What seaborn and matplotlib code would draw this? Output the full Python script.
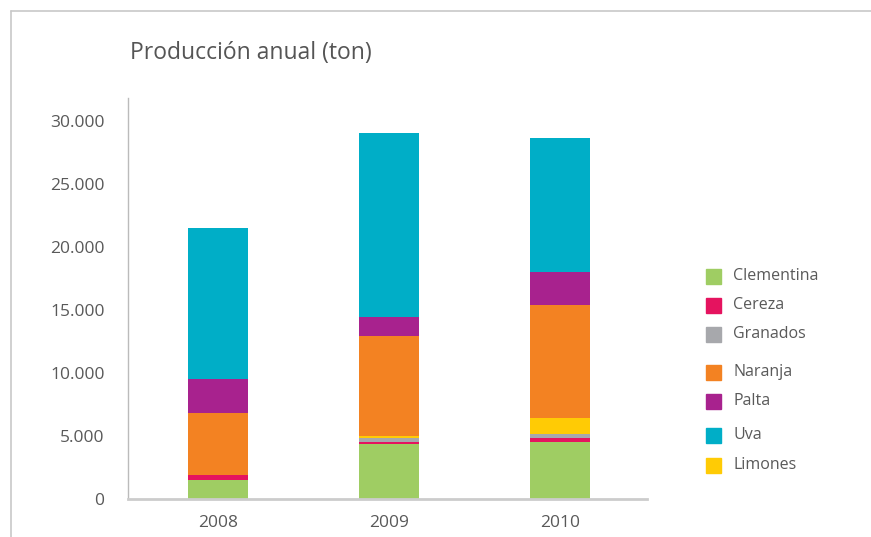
import matplotlib
matplotlib.use('Agg')
import matplotlib.pyplot as plt
import seaborn as sns
import numpy as np
import pandas as pd
from matplotlib.lines import Line2D
from matplotlib.patches import Rectangle
from matplotlib.ticker import FuncFormatter

years = ['2008', '2009', '2010']

# stacking order, bottom to top
clementina = [1530, 4380, 4540]
cereza = [395, 160, 315]
granados = [0, 315, 315]
limones = [0, 160, 1270]
naranja = [4910, 7920, 8950]
palta = [2670, 1505, 2610]
uva = [12005, 14570, 10615]

stack_names = ['Clementina', 'Cereza', 'Granados', 'Limones', 'Naranja', 'Palta', 'Uva']
stack_values = [clementina, cereza, granados, limones, naranja, palta, uva]
colors = {
    'Clementina': '#9fcd63',
    'Cereza': '#e5135f',
    'Granados': '#a7a8ac',
    'Limones': '#ffcb05',
    'Naranja': '#f38222',
    'Palta': '#a8228e',
    'Uva': '#00aec7',
}
legend_order = ['Clementina', 'Cereza', 'Granados', 'Naranja', 'Palta', 'Uva', 'Limones']

sns.set_style('white')
plt.rcParams['font.family'] = ['Open Sans', 'DejaVu Sans']

fig = plt.figure(figsize=(8.71, 5.37), dpi=100)
ax = fig.add_axes([0.147, 0.0702, 0.596, 0.7473])

cum = np.cumsum(np.array(stack_values), axis=0)
df = pd.DataFrame(cum.T, columns=stack_names)
df['year'] = years

# draw cumulative totals from the top layer down so lower layers sit on top
for name in stack_names[::-1]:
    sns.barplot(data=df, x='year', y=name, color=colors[name], saturation=1,
                width=0.35, linewidth=0, ax=ax)

ax.set_xlim(-0.526, 2.509)
ax.set_ylim(0, 31800)
ax.set_yticks(range(0, 30001, 5000))
ax.yaxis.set_major_formatter(FuncFormatter(lambda v, p: f'{int(v):,}'.replace(',', '.')))
ax.set_xlabel('')
ax.set_ylabel('')
ax.tick_params(axis='both', length=0, labelsize=12.5, colors='#595959')
ax.tick_params(axis='y', pad=17)
ax.tick_params(axis='x', pad=11)

for s in ['top', 'right']:
    ax.spines[s].set_visible(False)
ax.spines['left'].set_color('#bbbbbb')
ax.spines['left'].set_linewidth(1)
ax.spines['bottom'].set_color('#cccccc')
ax.spines['bottom'].set_linewidth(2)

fig.text(130 / 871, 1 - 53 / 537, 'Producción anual (ton)', fontsize=16.5,
         color='#555555', va='center', ha='left')

# legend with uneven row spacing like the original
rows_y = [276, 305, 334, 372, 401, 435, 465]
for name, y in zip(legend_order, rows_y):
    fig.patches.append(Rectangle((706 / 871, 1 - (y + 7.5) / 537), 15 / 871, 15 / 537,
                                 transform=fig.transFigure, color=colors[name]))
    fig.text(733 / 871, 1 - y / 537, name, fontsize=11.5, color='#595959',
             va='center', ha='left')

# outer frame lines
fig.add_artist(Line2D([11 / 871, 1], [1 - 11 / 537, 1 - 11 / 537],
                      transform=fig.transFigure, color='#c8c8c8', linewidth=1.2))
fig.add_artist(Line2D([11 / 871, 11 / 871], [0, 1 - 11 / 537],
                      transform=fig.transFigure, color='#c8c8c8', linewidth=1.2))

fig.savefig('out.png', dpi=100)
